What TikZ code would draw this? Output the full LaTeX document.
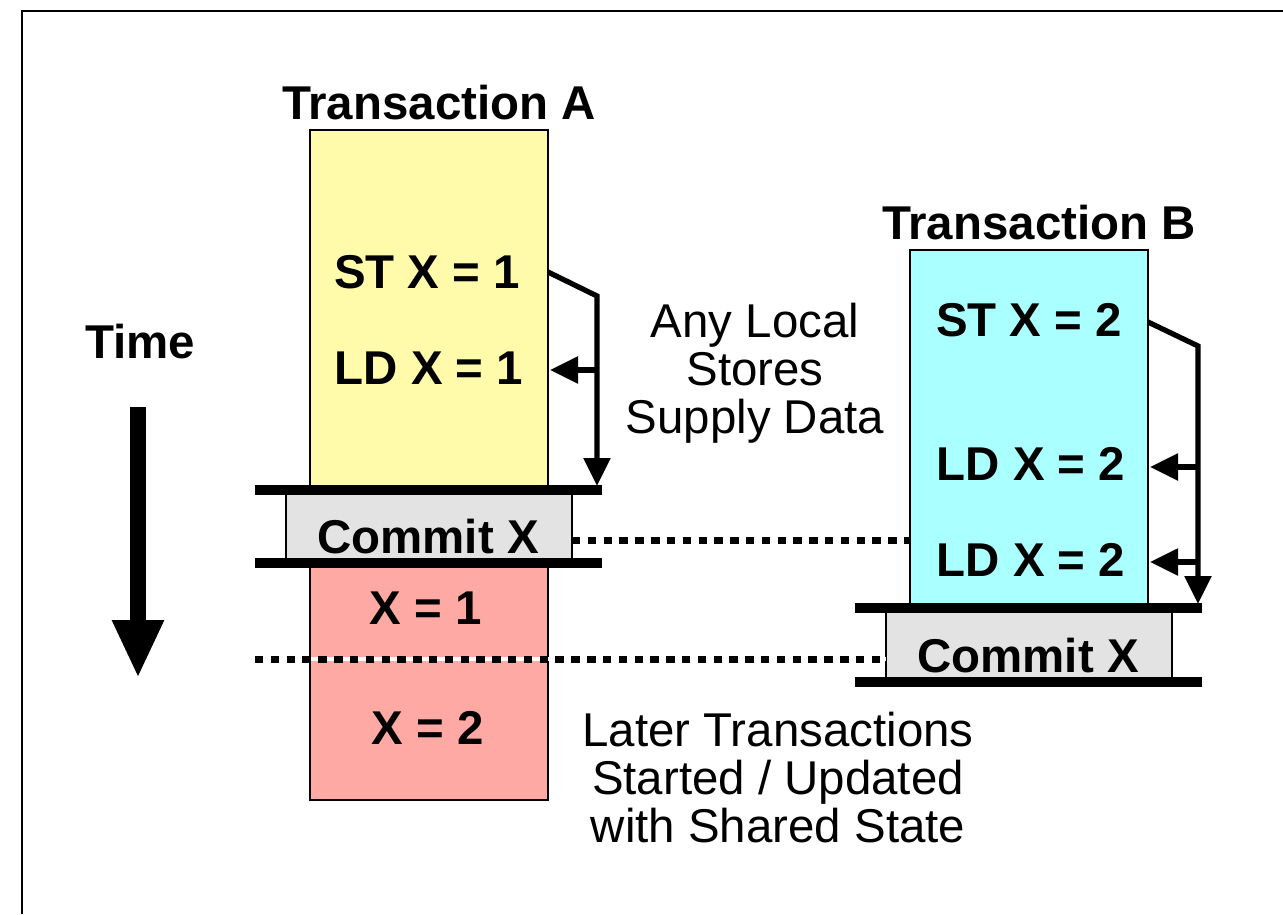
\documentclass[tikz,border=0pt]{standalone}
\usepackage{fontspec}
\setmainfont{Liberation Sans}
\usetikzlibrary{arrows.meta}
\definecolor{ayellow}{HTML}{FFFBAA}
\definecolor{bcyan}{HTML}{AAFFFF}
\definecolor{xred}{HTML}{FFA9A5}
\definecolor{cgray}{HTML}{E3E3E3}
\begin{document}
\begin{tikzpicture}[x=0.02cm,y=-0.02cm,
  box/.style={draw=black, line width=0.9pt, inner sep=0, minimum width=4.76cm},
  commitbox/.style={draw=black, line width=0.9pt, fill=cgray, inner sep=0, minimum width=5.72cm, minimum height=1.47cm},
  lbl/.style={font=\fontsize{27}{27}\selectfont\bfseries, anchor=base, inner sep=0},
  note/.style={font=\fontsize{27}{27.2}\selectfont, align=center, anchor=base, inner sep=0},
  bar/.style={line width=5.7pt},
  flow/.style={line width=3pt, -{Triangle[length=0.56cm,width=0.52cm]}},
  dotline/.style={line width=4pt, dash pattern=on 4.8pt off 4.2pt},
]
\useasboundingbox (0,0) rectangle (1283,914);
\draw[line width=1.2pt] (22,914) -- (22,11) -- (1283,11);

% Transaction A
\node[box, fill=ayellow, minimum height=7.2cm] (ta) at (429,310) {};
\node[commitbox] (ca) at (429,526.5) {};
\node[box, fill=xred, minimum height=4.74cm] (ra) at (429,681.5) {};
% Transaction B
\node[box, fill=bcyan, minimum height=7.16cm] (tb) at (1029,429) {};
\node[commitbox] (cb) at (1029,645) {};

% commit bars
\draw[bar] (255,490) -- (602,490);
\draw[bar] (255,563) -- (602,563);
\draw[bar] (855,608) -- (1202,608);
\draw[bar] (855,682) -- (1202,682);

% dotted lines
\coordinate (d1s) at (572,540);
\coordinate (d1e) at (910,540);
\draw[dotline] (d1s) -- (d1e);
\coordinate (d2s) at (255,659);
\coordinate (d2e) at (886,659);
\draw[white, line width=2.6pt] (d2s) -- (d2e);
\draw[dotline] (d2s) -- (d2e);

% labels
\node[lbl] (titleA) at (439,119) {Transaction A};
\node[lbl] (titleB) at (1039,239) {Transaction B};
\node[lbl] (time) at (140,358) {Time};
\node[lbl] (stA) at (427,288) {ST X = 1};
\node[lbl] (ldA) at (429,384) {LD X = 1};
\node[lbl] (cxA) at (428,553) {Commit X};
\node[lbl] (x1) at (426,624) {X = 1};
\node[lbl] (x2) at (428,744) {X = 2};
\node[lbl] (stB) at (1029,336) {ST X = 2};
\node[lbl] (ldB1) at (1031,480) {LD X = 2};
\node[lbl] (ldB2) at (1031,576) {LD X = 2};
\node[lbl] (cxB) at (1028,672) {Commit X};
\node[note] (anyl) at (755,433) {Any Local\\Stores\\Supply Data};
\node[note] (later) at (778,842) {Later Transactions\\Started / Updated\\with Shared State};

% time arrow
\coordinate (ts) at (138,407);
\coordinate (te) at (138,678);
\draw[line width=9pt, -{Triangle[length=1.16cm,width=0.96cm]}] (ts) -- (te);

% forwarding arrows A
\coordinate (a0) at (548,272);
\coordinate (a1) at (597,296);
\coordinate (a2) at (597,486);
\coordinate (a3) at (597,370);
\coordinate (a4) at (550,370);
\draw[flow] (a0) -- (a1) -- (a2);
\draw[flow] (a3) -- (a4);

% forwarding arrows B
\coordinate (b0) at (1148,322);
\coordinate (b1) at (1198,346);
\coordinate (b2) at (1198,604);
\coordinate (b3) at (1198,467);
\coordinate (b4) at (1150,467);
\coordinate (b5) at (1198,562);
\coordinate (b6) at (1150,562);
\draw[flow] (b0) -- (b1) -- (b2);
\draw[flow] (b3) -- (b4);
\draw[flow] (b5) -- (b6);
\end{tikzpicture}
\end{document}
